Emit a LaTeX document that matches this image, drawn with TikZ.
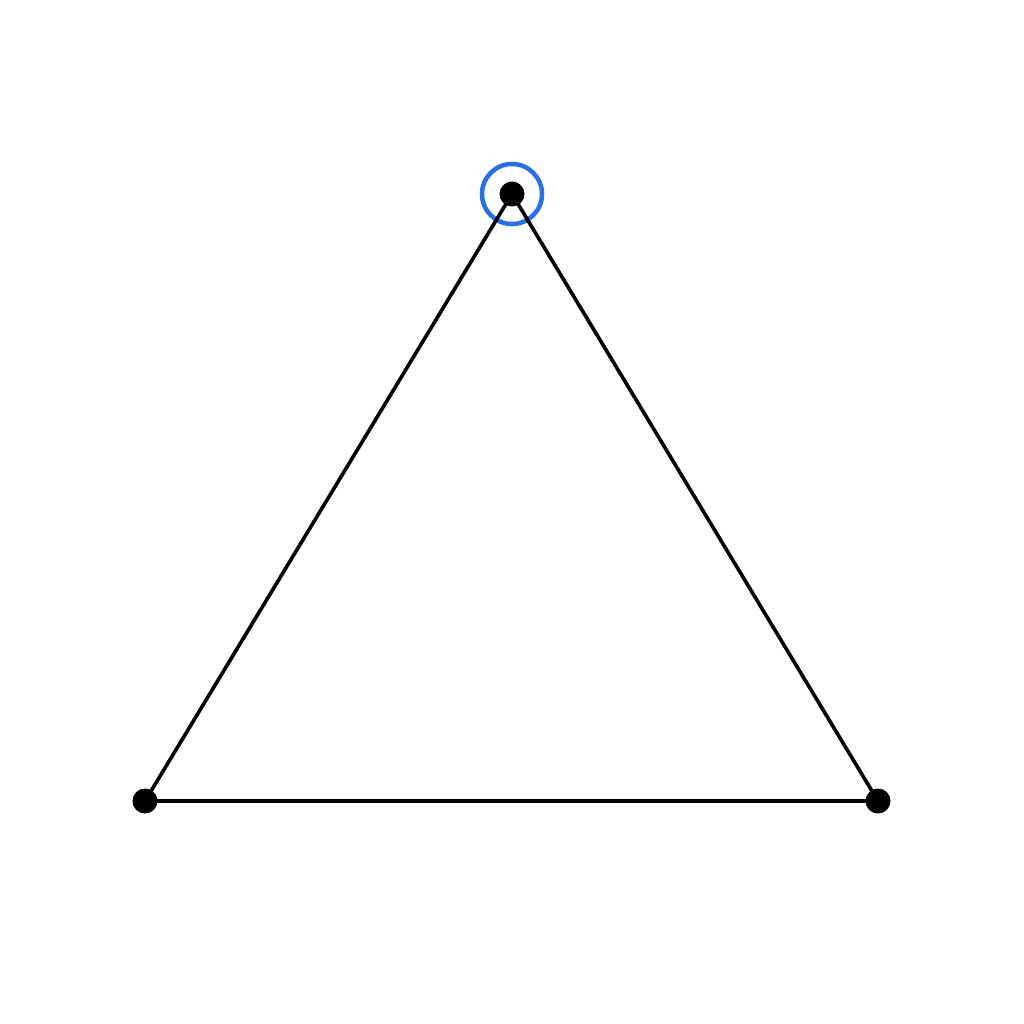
\documentclass[tikz,border=0pt]{standalone}
\definecolor{hlblue}{RGB}{40,110,228}
\begin{document}
\begin{tikzpicture}[x=0.01cm,y=-0.01cm,
  vtx/.style={circle,fill=black,inner sep=0pt,minimum size=0.25cm},
  edge/.style={line width=0.036cm,black},
  ring/.style={draw=hlblue,line width=0.045cm}]
\useasboundingbox (0,0) rectangle (1024,1024);
\coordinate (A) at (512,194);
\coordinate (B) at (145,801);
\coordinate (C) at (878,801);
\draw[ring] (A) circle[radius=0.30cm];
\draw[edge] (A) -- (B) -- (C) -- cycle;
\node[vtx] (a) at (A) {};
\node[vtx] (b) at (B) {};
\node[vtx] (c) at (C) {};
\end{tikzpicture}
\end{document}
